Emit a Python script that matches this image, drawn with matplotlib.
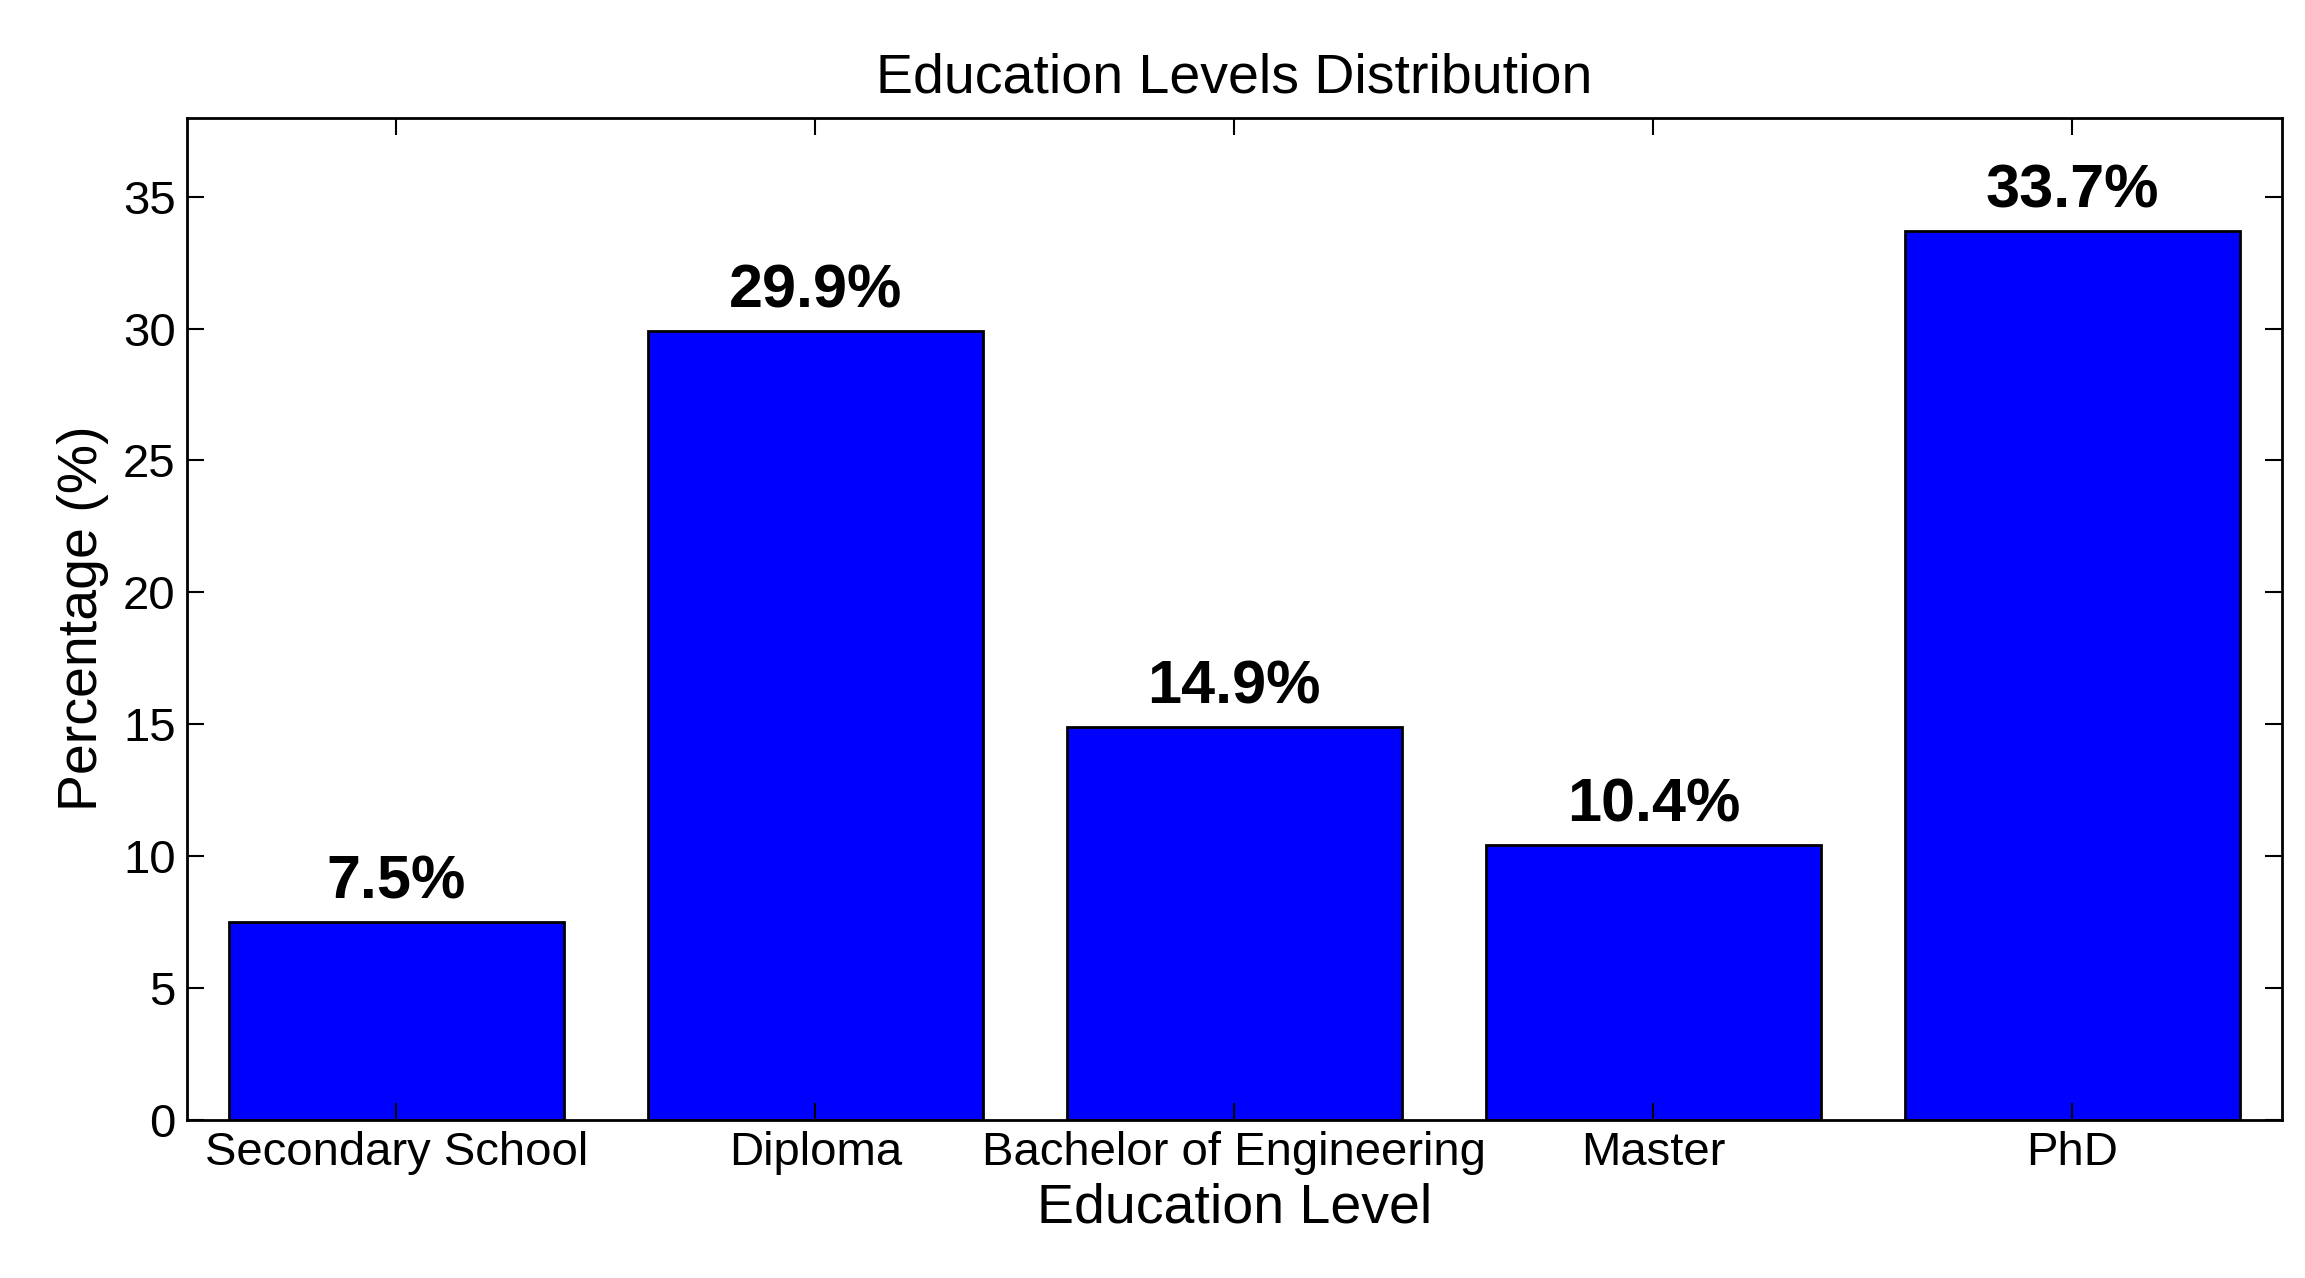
import matplotlib
matplotlib.use("Agg")
import matplotlib.pyplot as plt

categories = ["Secondary School", "Diploma", "Bachelor of Engineering", "Master", "PhD"]
values = [7.5, 29.9, 14.9, 10.4, 33.7]
yticks = [0, 5, 10, 15, 20, 25, 30, 35]

plt.rcParams['font.family'] = ['Liberation Sans', 'DejaVu Sans']
fig = plt.figure(figsize=(23.05, 12.78), dpi=100)
ax = fig.add_axes([0.081, 0.124, 0.909, 0.784])
x = list(range(1, len(categories) + 1))
ax.bar(x, values, width=0.8, color='#0000ff', edgecolor='black', linewidth=2)
for xi, v in zip(x, values):
    ax.text(xi, v + 0.4, f"{v:.1f}%", ha='center', va='bottom', fontsize=44, fontweight='bold')
ax.set_xlim(0.5, 5.5)
ax.set_ylim(0, 38)
ax.set_xticks(x)
ax.set_xticklabels(categories)
ax.set_yticks(yticks)
ax.tick_params(direction='in', top=True, right=True, labelsize=34, length=12, width=1.5, pad=8)
for s in ax.spines.values():
    s.set_linewidth(2)
ax.set_xlabel("Education Level", fontsize=40, labelpad=6)
ax.set_ylabel("Percentage (%)", fontsize=40, labelpad=10)
ax.set_title("Education Levels Distribution", fontsize=40, pad=18)
fig.savefig("out.png", dpi=100)
